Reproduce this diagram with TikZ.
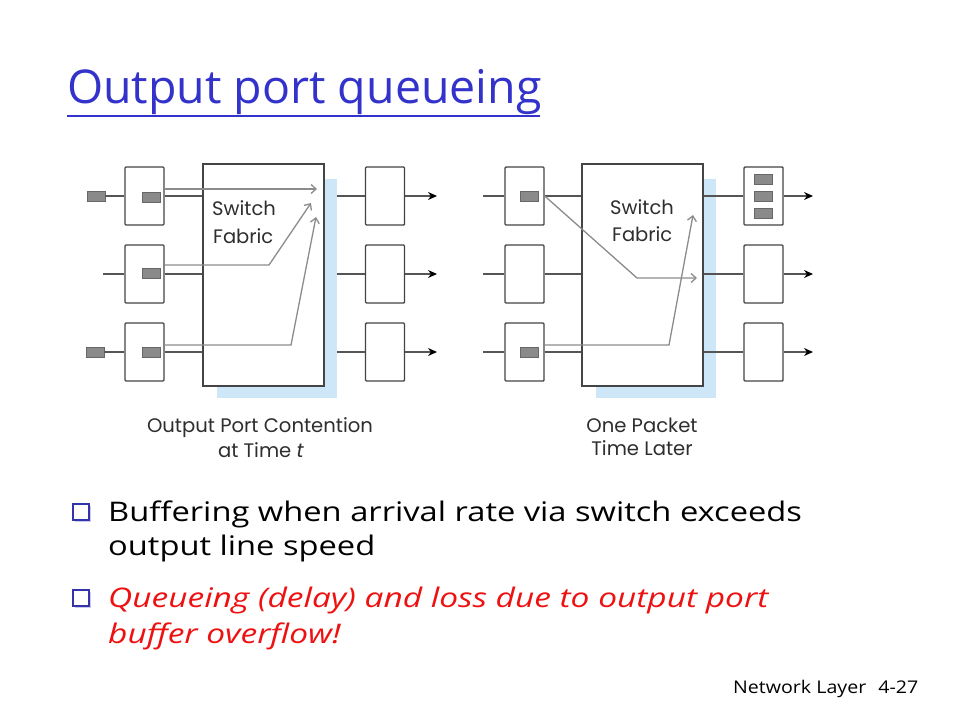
\documentclass[tikz,border=0pt]{standalone}
\usepackage{fontspec}
\setmainfont{Open Sans}
\newfontfamily\diagfont{Poppins}
\newfontfamily\bodyfont[FakeStretch=1.21]{Open Sans}
\newfontfamily\redfont[FakeStretch=1.24]{Open Sans}
\newfontfamily\footfont[FakeStretch=1.12]{Open Sans}
\usetikzlibrary{arrows.meta,shadows}
\definecolor{titleblue}{HTML}{3333CC}
\definecolor{redtext}{HTML}{EE1111}
\definecolor{linegray}{HTML}{555555}
\definecolor{boxgray}{HTML}{444444}
\definecolor{pktgray}{HTML}{8A8A8A}
\definecolor{arrgray}{HTML}{8C8C8C}
\definecolor{shadowblue}{HTML}{CDE6F8}
\definecolor{labelgray}{HTML}{2E2E2E}
\definecolor{bulletblue}{HTML}{3333AA}
\begin{document}
\begin{tikzpicture}[x=1pt,y=-1pt,
  port/.style={draw=boxgray, line width=1.4pt, minimum width=39pt, minimum height=58pt, inner sep=0pt, rounded corners=1pt},
  fabric/.style={draw=boxgray, fill=white, line width=1.4pt, minimum width=121pt, minimum height=222pt, inner sep=0pt},
  shadowbox/.style={fill=shadowblue, minimum width=120pt, minimum height=219pt, inner sep=0pt},
  pkt/.style={fill=pktgray, draw=pktgray!75!black, line width=0.5pt, minimum width=18pt, minimum height=10pt, inner sep=0pt},
  wire/.style={draw=linegray, line width=1.4pt},
  flow/.style={draw=arrgray, line width=1.3pt, -{Straight Barb[length=5pt,width=9pt]}},
  outwire/.style={wire, -{Stealth[length=9pt,width=8pt,black]}},
  difflabel/.style={font=\diagfont\fontsize{19.5}{22}\selectfont, text=labelgray, inner sep=0pt},
  caption/.style={font=\diagfont\fontsize{19.6}{25}\selectfont, text=labelgray, inner sep=0pt, align=center},
  bulletbox/.style={draw=bulletblue, fill=white, line width=1.2pt, minimum width=16pt, minimum height=16pt, inner sep=0pt, drop shadow={shadow xshift=1.5pt, shadow yshift=-1.5pt, fill=bulletblue!50}},
  bodytext/.style={font=\bodyfont\fontsize{27}{34}\selectfont, inner sep=0pt, anchor=base west},
  redbody/.style={font=\redfont\itshape\fontsize{27}{34}\selectfont, text=redtext, inner sep=0pt, anchor=base west},
]
\useasboundingbox (0,0) rectangle (960,720);
\fill[white] (0,0) rectangle (960,720);

% Title
\node[font=\fontsize{46.5}{50}\selectfont, text=titleblue, inner sep=0pt, anchor=base west] (title) at (67,103) {Output port queueing};
\draw[titleblue, line width=2pt] (67,116) -- (540,116);

% ===== Left panel =====
\node[shadowbox] (shL) at (277,288.5) {};
\node[fabric] (fabL) at (263.5,275) {};
\node[port] (i1L) at (144.5,196) {};
\node[port] (i2L) at (144.5,274) {};
\node[port] (i3L) at (144.5,352) {};
\node[port] (o1L) at (385,196) {};
\node[port] (o2L) at (385,274) {};
\node[port] (o3L) at (385,352) {};
\node[pkt] (x1L) at (96,196) {};
\node[pkt] (x3L) at (95,352) {};
\node[pkt] (q1L) at (151,197) {};
\node[pkt] (q2L) at (151,273) {};
\node[pkt] (q3L) at (151,352) {};
\coordinate (s2L) at (103,274);
\coordinate (e1L) at (437,196);
\coordinate (e2L) at (437,274);
\coordinate (e3L) at (437,352);

\draw[wire] (x1L.east) -- (i1L.west);
\draw[wire] (s2L) -- (i2L.west);
\draw[wire] (x3L.east) -- (i3L.west);
\draw[wire] (i1L.east) -- (i1L.east -| fabL.west);
\draw[wire] (i2L.east) -- (i2L.east -| fabL.west);
\draw[wire] (i3L.east) -- (i3L.east -| fabL.west);
\draw[wire] (o1L.west -| shL.east) -- (o1L.west);
\draw[wire] (o2L.west -| shL.east) -- (o2L.west);
\draw[wire] (o3L.west -| shL.east) -- (o3L.west);
\draw[outwire] (o1L.east) -- (e1L);
\draw[outwire] (o2L.east) -- (e2L);
\draw[outwire] (o3L.east) -- (e3L);

\coordinate (f1L) at (317,189);
\coordinate (b2L) at (269,265);
\coordinate (f2L) at (311,203);
\coordinate (b3L) at (291,345);
\coordinate (f3L) at (316,217);
\draw[flow] ([yshift=7pt]i1L.east) -- (f1L);
\draw[flow] ([yshift=9pt]i2L.east) -- (b2L) -- (f2L);
\draw[flow] ([yshift=7pt]i3L.east) -- (b3L) -- (f3L);

\node[difflabel, anchor=base west] (swL) at (212,215) {Switch};
\node[difflabel, anchor=base west] (fbL) at (213,243) {Fabric};
\node[caption, anchor=base] (capL1) at (260,432) {Output Port Contention};
\node[caption, anchor=base] (capL2) at (261,457) {at Time \textit{t}};

% ===== Right panel =====
\node[shadowbox] (shR) at (655.5,288.5) {};
\node[fabric] (fabR) at (642.5,275) {};
\node[port] (i1R) at (524.5,196) {};
\node[port] (i2R) at (524.5,274) {};
\node[port] (i3R) at (524.5,352) {};
\node[port] (o1R) at (763.5,196) {};
\node[port] (o2R) at (763.5,274) {};
\node[port] (o3R) at (763.5,352) {};
\node[pkt] (q1R) at (529.5,196.5) {};
\node[pkt] (q3R) at (529.5,352.5) {};
\node[pkt] (r1R) at (763.5,179) {};
\node[pkt] (r2R) at (763.5,196.5) {};
\node[pkt] (r3R) at (763.5,213) {};
\coordinate (s1R) at (483,196);
\coordinate (s2R) at (483,274);
\coordinate (s3R) at (483,352);
\coordinate (e1R) at (813,196);
\coordinate (e2R) at (813,274);
\coordinate (e3R) at (813,352);

\draw[wire] (s1R) -- (i1R.west);
\draw[wire] (s2R) -- (i2R.west);
\draw[wire] (s3R) -- (i3R.west);
\draw[wire] (i1R.east) -- (i1R.east -| fabR.west);
\draw[wire] (i2R.east) -- (i2R.east -| fabR.west);
\draw[wire] (i3R.east) -- (i3R.east -| fabR.west);
\draw[wire] (o1R.west -| fabR.east) -- (o1R.west);
\draw[wire] (o2R.west -| fabR.east) -- (o2R.west);
\draw[wire] (o3R.west -| fabR.east) -- (o3R.west);
\draw[outwire] (o1R.east) -- (e1R);
\draw[outwire] (o2R.east) -- (e2R);
\draw[outwire] (o3R.east) -- (e3R);

\coordinate (b1R) at (637,278);
\coordinate (f1R) at (697,278);
\coordinate (b3R) at (669,345);
\coordinate (f3R) at (693,215);
\draw[flow] (i1R.east) -- (b1R) -- (f1R);
\draw[flow] ([yshift=7pt]i3R.east) -- (b3R) -- (f3R);

\node[difflabel, anchor=base west] (swR) at (610,214) {Switch};
\node[difflabel, anchor=base west] (fbR) at (612,241) {Fabric};
\node[caption, anchor=base] (capR1) at (642,432) {One Packet};
\node[caption, anchor=base] (capR2) at (642,455) {Time Later};

% ===== Bullets =====
\node[bulletbox] (bu1) at (81,512) {};
\node[bodytext] (t1a) at (108,521) {Buffering when arrival rate via switch exceeds};
\node[bodytext] (t1b) at (108,555) {output line speed};
\node[bulletbox] (bu2) at (81,598) {};
\node[redbody] (t2a) at (108,607) {Queueing (delay) and loss due to output port};
\node[redbody] (t2b) at (108,643) {buffer overflow!};

% Footer
\node[font=\footfont\fontsize{17.5}{20}\selectfont, inner sep=0pt, anchor=base west] (foot) at (733,693) {Network Layer\hspace{12pt}4-27};
\end{tikzpicture}
\end{document}
